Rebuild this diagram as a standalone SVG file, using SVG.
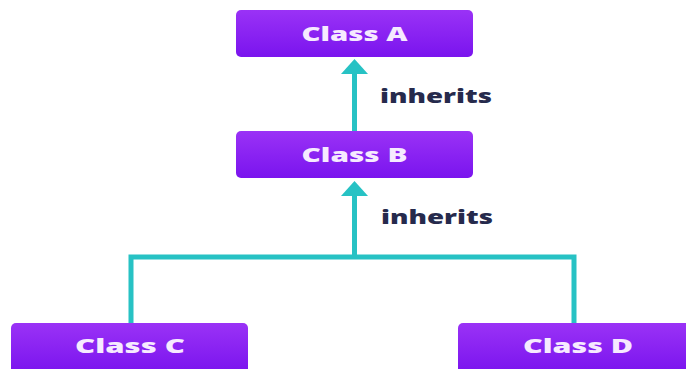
<svg xmlns="http://www.w3.org/2000/svg" width="686" height="369" viewBox="0 0 686 369">
  <defs>
    <linearGradient id="boxFill" x1="0" y1="0" x2="0" y2="1">
      <stop offset="0" stop-color="#9a32f6"/>
      <stop offset="1" stop-color="#7a14ee"/>
    </linearGradient>
    <style>
      .box { fill: url(#boxFill); }
      .name { font-family: "Open Sans", "Liberation Sans", sans-serif; font-weight: 800; font-size: 19.5px; fill: #f6eaff; text-anchor: middle; }
      .label { font-family: "Open Sans", "Liberation Sans", sans-serif; font-weight: 800; font-size: 20px; fill: #262a4c; }
      .wire { fill: none; stroke: #27c2c4; stroke-width: 5; }
      .head { fill: #27c2c4; }
    </style>
  </defs>
  <rect width="686" height="369" fill="#ffffff"/>

  <!-- connectors -->
  <g id="connectors">
    <!-- B inherits A -->
    <line class="wire" x1="354.5" y1="131" x2="354.5" y2="71"/>
    <polygon class="head" points="354.5,59 368,74 341,74"/>
    <!-- C and D inherit B -->
    <path class="wire" d="M131,323 V257 H574 V323"/>
    <line class="wire" x1="354.5" y1="257" x2="354.5" y2="194"/>
    <polygon class="head" points="354.5,181 368,196 341,196"/>
    <text class="label" x="380" y="103" textLength="112" lengthAdjust="spacingAndGlyphs">inherits</text>
    <text class="label" x="381" y="224" textLength="112" lengthAdjust="spacingAndGlyphs">inherits</text>
  </g>

  <g id="classA">
    <rect class="box" x="236" y="10" width="237" height="47" rx="5"/>
    <text class="name" x="354.5" y="41" textLength="106" lengthAdjust="spacingAndGlyphs">Class A</text>
  </g>
  <g id="classB">
    <rect class="box" x="236" y="131" width="237" height="47" rx="5"/>
    <text class="name" x="354.5" y="162" textLength="106" lengthAdjust="spacingAndGlyphs">Class B</text>
  </g>
  <g id="classC">
    <rect class="box" x="11" y="323" width="237" height="50" rx="5"/>
    <text class="name" x="130" y="353" textLength="110" lengthAdjust="spacingAndGlyphs">Class C</text>
  </g>
  <g id="classD">
    <rect class="box" x="458" y="323" width="237" height="50" rx="5"/>
    <text class="name" x="578" y="353" textLength="110" lengthAdjust="spacingAndGlyphs">Class D</text>
  </g>
</svg>
